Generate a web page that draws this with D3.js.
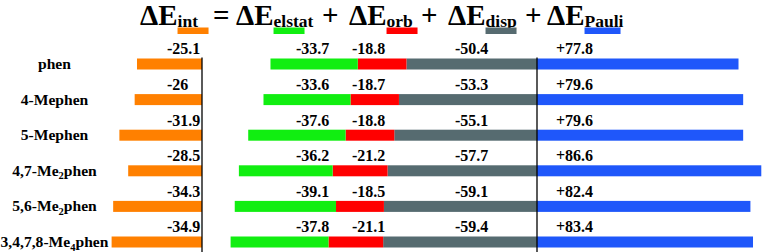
<!DOCTYPE html>
<html lang="en">
<head>
<meta charset="UTF-8">
<title>Energy decomposition</title>
<style>
  body { margin: 0; background: #fff; }
  svg { display: block; }
</style>
</head>
<body>
<div id="chart"></div>
<script src="https://d3js.org/d3.v7.min.js"></script>
<script>
// data
const ligands = ["phen", "4-Mephen", "5-Mephen", "4,7-Me2phen", "5,6-Me2phen", "3,4,7,8-Me4phen"];
const eInt    = [-25.1, -26, -31.9, -28.5, -34.3, -34.9];
const eElstat = [-33.7, -33.6, -37.6, -36.2, -39.1, -37.8];
const eOrb    = [-18.8, -18.7, -18.8, -21.2, -18.5, -21.1];
const eDisp   = [-50.4, -53.3, -55.1, -57.7, -59.1, -59.4];
const ePauli  = [77.8, 79.6, 79.6, 86.6, 82.4, 83.4];
const terms   = ["int", "elstat", "orb", "disp", "Pauli"];

const colors = { int: "#ff8000", elstat: "#11ee11", orb: "#ff0000", disp: "#566b70", Pauli: "#1f57fa" };

const width = 764, height = 252;
const pxPerUnit = 2.59;

const svg = d3.select("#chart").append("svg")
    .attr("width", width)
    .attr("height", height)
    .attr("font-family", "'Liberation Serif', 'Times New Roman', serif")
    .attr("font-weight", "bold");

const y = d3.scaleBand()
    .domain(ligands)
    .range([46.2, 259.8])
    .paddingInner(0.691)
    .paddingOuter(0.3455);

// interaction energy scale (own zero line)
const xInt = d3.scaleLinear().domain([-40, 0]).range([202 - 40 * pxPerUnit, 202]);
// decomposition scale
const x = d3.scaleLinear().domain([-120, 90]).range([537 - 120 * pxPerUnit, 537 + 90 * pxPerUnit]);

const rows = ligands.map((name, i) => ({
    name,
    int: eInt[i],
    elstat: eElstat[i],
    orb: eOrb[i],
    disp: eDisp[i],
    Pauli: ePauli[i]
}));

// stacked negatives: disp next to the axis, then orb, then elstat
const stackNeg = d3.stack()
    .keys(["disp", "orb", "elstat"])
    .offset(d3.stackOffsetDiverging)(rows);

// title
const title = [
    { x: 140, sym: "ΔE", sub: "int" },
    { x: 213, sym: "=" },
    { x: 236, sym: "ΔE", sub: "elstat" },
    { x: 322, sym: "+" },
    { x: 349, sym: "ΔE", sub: "orb" },
    { x: 421, sym: "+" },
    { x: 448, sym: "ΔE", sub: "disp" },
    { x: 525, sym: "+" },
    { x: 547, sym: "ΔE", sub: "Pauli" }
];

const tg = svg.append("g");
title.forEach(t => {
    const txt = tg.append("text")
        .attr("x", t.x)
        .attr("y", 25)
        .attr("font-size", 29)
        .attr("fill", "#000");
    txt.append("tspan").text(t.sym);
    if (t.sub) {
        const sub = txt.append("tspan")
            .attr("font-size", 17.5)
            .attr("dy", 1.5)
            .text(t.sub);
        const subX = t.x + txt.node().getComputedTextLength() - sub.node().getComputedTextLength();
        tg.append("rect")
            .attr("x", subX)
            .attr("y", 27.5)
            .attr("width", t.sub === "Pauli" ? 36 : 31)
            .attr("height", 6.5)
            .attr("fill", colors[t.sub]);
    }
});

// row labels
const labels = svg.append("g")
    .attr("text-anchor", "middle")
    .attr("font-size", 15.6)
    .selectAll("text")
    .data(ligands)
    .join("text")
    .attr("x", 54.5)
    .attr("y", d => y(d) + y.bandwidth() - 0.5);

labels.each(function(d) {
    const m = d.match(/^(.*Me)(\d)(phen)$/);
    const t = d3.select(this);
    if (m) {
        t.append("tspan").text(m[1]);
        t.append("tspan").attr("font-size", 10.5).attr("dy", 3.5).text(m[2]);
        t.append("tspan").attr("dy", -3.5).text(m[3]);
    } else {
        t.text(d);
    }
});

// interaction bars
svg.append("g")
    .attr("fill", colors.int)
    .selectAll("rect")
    .data(rows)
    .join("rect")
    .attr("x", d => xInt(d.int))
    .attr("y", d => y(d.name))
    .attr("width", d => xInt(0) - xInt(d.int))
    .attr("height", y.bandwidth());

// negative decomposition stack
svg.append("g")
    .selectAll("g")
    .data(stackNeg)
    .join("g")
    .attr("fill", s => colors[s.key])
    .selectAll("rect")
    .data(s => s)
    .join("rect")
    .attr("x", d => x(d[0]))
    .attr("y", d => y(d.data.name))
    .attr("width", d => x(d[1]) - x(d[0]))
    .attr("height", y.bandwidth());

// Pauli bars
svg.append("g")
    .attr("fill", colors.Pauli)
    .selectAll("rect")
    .data(rows)
    .join("rect")
    .attr("x", x(0))
    .attr("y", d => y(d.name))
    .attr("width", d => x(d.Pauli) - x(0))
    .attr("height", y.bandwidth());

// zero lines
[xInt(0), x(0)].forEach(px => {
    svg.append("line")
        .attr("x1", px).attr("x2", px)
        .attr("y1", y(ligands[0]) - 1).attr("y2", height)
        .attr("stroke", "#000")
        .attr("stroke-width", 1.3);
});

// value labels (fixed columns)
const cols = [
    { key: "int", x: 167, fmt: v => String(v) },
    { key: "elstat", x: 296, fmt: v => String(v) },
    { key: "orb", x: 352, fmt: v => String(v) },
    { key: "disp", x: 455, fmt: v => String(v) },
    { key: "Pauli", x: 556, fmt: v => "+" + v }
];

const vg = svg.append("g").attr("font-size", 16).attr("fill", "#000");
cols.forEach(c => {
    vg.selectAll(null)
        .data(rows)
        .join("text")
        .attr("x", c.x)
        .attr("y", d => y(d.name) - 4)
        .text(d => c.fmt(d[c.key]));
});
</script>
</body>
</html>
